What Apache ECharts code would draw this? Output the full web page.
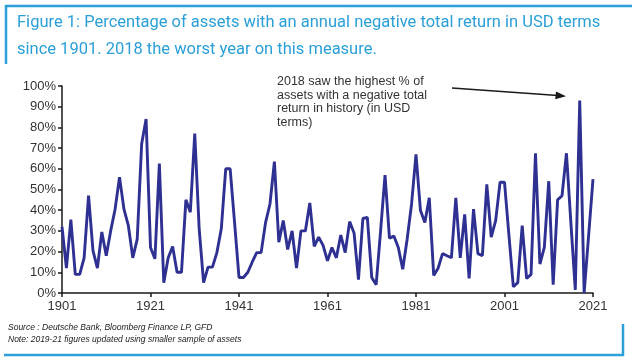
<!DOCTYPE html>
<html>
<head>
<meta charset="utf-8">
<script src="https://cdn.jsdelivr.net/npm/echarts@6/dist/echarts.min.js"></script>
<style>html,body{margin:0;padding:0;background:#fff}#c{width:640px;height:360px}</style>
</head>
<body>
<div id="c"></div>
<script>
var firstYear = 1901, lastYear = 2021;
var years = [];
for (var y = firstYear; y <= lastYear; y++) years.push(String(y));

var pct1901_1920 = [32, 12, 35.5, 9, 9, 17, 47, 20.5, 12, 29.5, 18, 30, 40.5, 56, 40.5, 32.5, 17, 26, 72, 84];
var pct1921_1940 = [22, 16.5, 62.5, 5, 17, 22.5, 10, 10, 45, 39, 77, 31, 5, 12.5, 12.5, 19.5, 31, 60, 60, 34];
var pct1941_1960 = [7.5, 7.5, 10, 15, 19.5, 19.5, 34, 43, 63.5, 24.5, 35, 21, 30, 12, 30, 30, 43.5, 22.5, 27, 23];
var pct1961_1980 = [15.5, 22, 17, 28, 19.5, 34.5, 29, 6.5, 36, 36.5, 7.5, 4, 30, 57, 26.5, 27.5, 22, 11.5, 26, 43];
var pct1981_2000 = [67, 40, 34, 46, 8.5, 12, 19, 18, 17, 46, 17, 38, 7, 40.5, 19, 18, 52.5, 27, 35, 53.5];
var pct2001_2021 = [53.5, 28, 3, 5, 32.5, 7, 9, 67.5, 14, 22, 54, 4, 45, 47, 67.5, 34, 1.5, 93, 0, 27.5, 55];
var negativeShare = [].concat(pct1901_1920, pct1921_1940, pct1941_1960, pct1961_1980, pct1981_2000, pct2001_2021);

var titleText = 'Figure 1: Percentage of assets with an annual negative total return in USD terms\nsince 1901. 2018 the worst year on this measure.';
var noteText = 'Source : Deutsche Bank, Bloomberg Finance LP, GFD\nNote: 2019-21 figures updated using smaller sample of assets';
var annotationText = '2018 saw the highest % of\nassets with a negative total\nreturn in history (in USD\nterms)';

var chart = echarts.init(document.getElementById('c'), null, {renderer: 'canvas'});
var blue = '#2a9fd8';
chart.setOption({
  animation: false,
  title: {
    text: titleText,
    left: 12, top: 4,
    textStyle: {fontFamily: 'Roboto', fontSize: 16.5, fontWeight: 'normal', color: blue, lineHeight: 27}
  },
  grid: {left: 62, right: 47, top: 86, bottom: 67},
  xAxis: {
    type: 'category',
    data: years,
    boundaryGap: false,
    axisLine: {lineStyle: {color: '#1a1a1a', width: 1.5}},
    axisTick: {interval: 19, length: 4, lineStyle: {color: '#1a1a1a', width: 1.5}},
    axisLabel: {interval: 19, fontFamily: 'Liberation Sans', fontSize: 13, color: '#333', margin: 7}
  },
  yAxis: {
    type: 'value',
    min: 0, max: 100, interval: 10,
    splitLine: {show: false},
    axisLine: {show: true, lineStyle: {color: '#1a1a1a', width: 1.5}},
    axisTick: {show: true, length: 4, lineStyle: {color: '#1a1a1a', width: 1.5}},
    axisLabel: {formatter: '{value}%', fontFamily: 'Liberation Sans', fontSize: 13, color: '#333', margin: 6}
  },
  series: [{
    type: 'line',
    data: negativeShare,
    showSymbol: false,
    lineStyle: {color: '#2e3192', width: 2.9},
    itemStyle: {color: '#2e3192'}
  }],
  graphic: [
    {type: 'line', shape: {x1: 5, y1: 6, x2: 632, y2: 6}, style: {stroke: blue, lineWidth: 2.5}},
    {type: 'line', shape: {x1: 6, y1: 5, x2: 6, y2: 64}, style: {stroke: blue, lineWidth: 2.5}},
    {type: 'line', shape: {x1: 4, y1: 355, x2: 624, y2: 355}, style: {stroke: blue, lineWidth: 2.5}},
    {type: 'line', shape: {x1: 623, y1: 324, x2: 623, y2: 356}, style: {stroke: blue, lineWidth: 2.5}},
    {type: 'text', left: 277, top: 75, style: {text: annotationText, font: '12.5px "Liberation Sans"', fill: '#333', lineHeight: 13.5}},
    {type: 'line', shape: {x1: 452, y1: 88, x2: 558, y2: 95.5}, style: {stroke: '#1a1a1a', lineWidth: 1.3}},
    {type: 'polygon', shape: {points: [[566, 96.2], [556, 91.5], [555.2, 99.3]]}, style: {fill: '#1a1a1a'}},
    {type: 'text', left: 8, top: 322, style: {text: noteText, font: 'italic 8.5px "Liberation Sans"', fill: '#222', lineHeight: 12}}
  ]
});
</script>
</body>
</html>
